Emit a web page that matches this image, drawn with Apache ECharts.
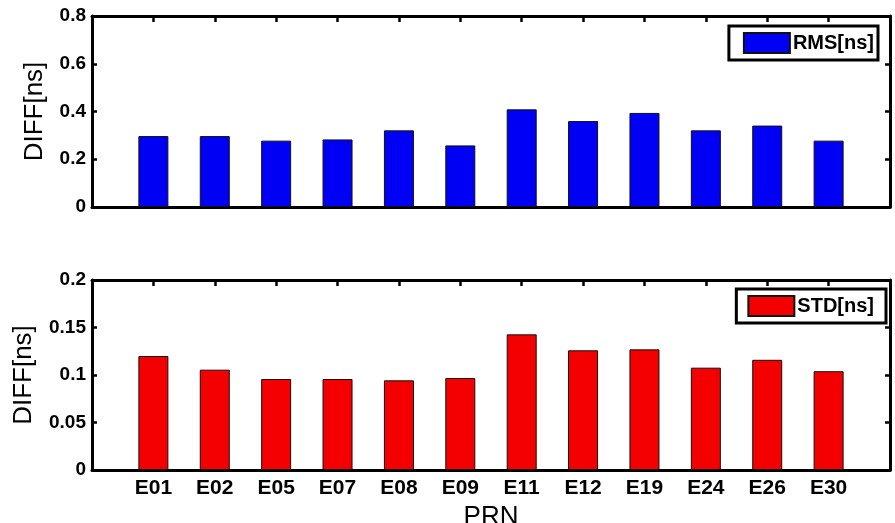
<!DOCTYPE html>
<html>
<head>
<meta charset="utf-8">
<script src="https://cdn.jsdelivr.net/npm/echarts@6/dist/echarts.min.js"></script>
<style>
html,body{margin:0;padding:0;background:#fff;}
#chart{width:895px;height:523px;}
</style>
</head>
<body>
<div id="chart"></div>
<script>
const categories = ['E01','E02','E05','E07','E08','E09','E11','E12','E19','E24','E26','E30'];
const rmsValues = [0.297,0.297,0.278,0.283,0.321,0.258,0.409,0.360,0.394,0.321,0.341,0.278];
const stdValues = [0.120,0.1056,0.0958,0.0958,0.0944,0.0968,0.1428,0.126,0.127,0.1077,0.116,0.104];
const rmsAxis = {min:0, max:0.8, interval:0.2};
const stdAxis = {min:0, max:0.2, interval:0.05};
const seriesNames = ['RMS[ns]','STD[ns]'];

const FONT = '"Liberation Sans", Arial, Helvetica, sans-serif';
const chart = echarts.init(document.getElementById('chart'));

function xAxes(gi, showLabels) {
  const base = {
    gridIndex: gi, type: 'value', min: 0, max: categories.length + 1, interval: 1,
    axisLine: {show: true, onZero: false, lineStyle: {color: '#000', width: 3}},
    axisTick: {show: true, inside: true, length: 6, lineStyle: {color: '#000', width: 2.5}},
    splitLine: {show: false}
  };
  return [
    Object.assign({}, base, {
      position: 'bottom',
      name: showLabels ? 'PRN' : '',
      nameLocation: 'middle', nameGap: 34,
      nameTextStyle: {fontFamily: FONT, fontSize: 26, color: '#000'},
      axisLabel: {
        show: showLabels, margin: 8, color: '#000', fontFamily: FONT, fontSize: 21, fontWeight: 'bold',
        formatter: v => categories[v - 1] || ''
      }
    }),
    Object.assign({}, base, {position: 'top', axisLabel: {show: false}})
  ];
}
function yAxes(gi, rng, nameGap) {
  const base = {
    gridIndex: gi, type: 'value', min: rng.min, max: rng.max, interval: rng.interval,
    axisLine: {show: true, onZero: false, lineStyle: {color: '#000', width: 3}},
    axisTick: {show: true, inside: true, length: 5, lineStyle: {color: '#000', width: 2.5}},
    splitLine: {show: false}
  };
  return [
    Object.assign({}, base, {
      position: 'left',
      name: 'DIFF[ns]', nameLocation: 'middle', nameGap: nameGap,
      nameTextStyle: {fontFamily: FONT, fontSize: 26, color: '#000'},
      axisLabel: {show: true, margin: 6, color: '#000', fontFamily: FONT, fontSize: 19, fontWeight: 'bold'}
    }),
    Object.assign({}, base, {position: 'right', axisLabel: {show: false}})
  ];
}
function legend(name, top, right, padding) {
  return {
    data: [name], top: top, right: right, orient: 'horizontal', icon: 'rect',
    itemWidth: 46, itemHeight: 20, selectedMode: false,
    padding: padding,
    borderColor: '#000', borderWidth: 3, backgroundColor: '#fff',
    textStyle: {fontFamily: FONT, fontSize: 20, fontWeight: 'bold', color: '#000', padding: [0, 0, 0, -2]}
  };
}

const option = {
  backgroundColor: '#fff',
  animation: false,
  grid: [
    {left: 92, right: 5, top: 16, height: 191, outerBoundsMode: 'none', containLabel: false},
    {left: 92, right: 5, top: 280, height: 190, outerBoundsMode: 'none', containLabel: false}
  ],
  xAxis: [].concat(xAxes(0, false), xAxes(1, true)),
  yAxis: [].concat(yAxes(0, rmsAxis, 44), yAxes(1, stdAxis, 55)),
  legend: [
    legend(seriesNames[0], 26, 17, [6, 4, 6, 14]),
    legend(seriesNames[1], 289, 9, [6, 12, 6, 11])
  ],
  series: [
    {
      name: seriesNames[0], type: 'bar', xAxisIndex: 0, yAxisIndex: 0, barWidth: 30,
      itemStyle: {color: '#0000f5', borderColor: '#111', borderWidth: 1},
      data: rmsValues.map((v, k) => [k + 1, v])
    },
    {
      name: seriesNames[1], type: 'bar', xAxisIndex: 2, yAxisIndex: 2, barWidth: 30,
      itemStyle: {color: '#f50000', borderColor: '#111', borderWidth: 1},
      data: stdValues.map((v, k) => [k + 1, v])
    }
  ]
};
chart.setOption(option);
</script>
</body>
</html>
